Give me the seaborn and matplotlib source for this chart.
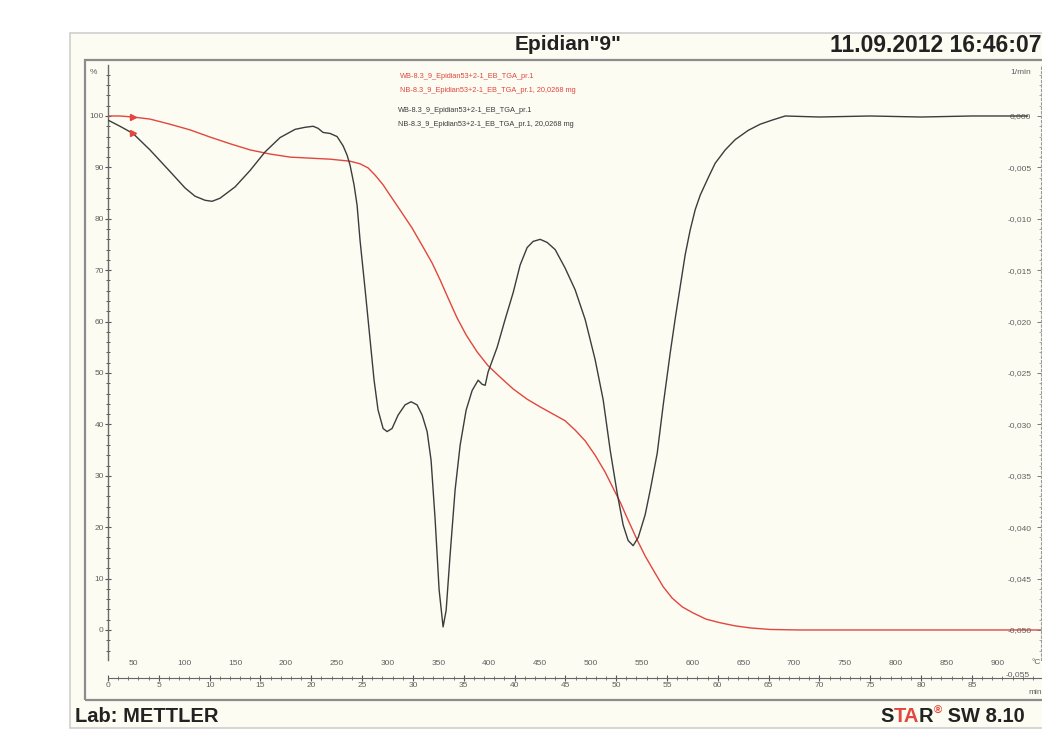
import matplotlib
matplotlib.use("Agg")
import matplotlib.pyplot as plt
import seaborn as sns
from matplotlib.patches import Rectangle
from matplotlib.ticker import FixedLocator, FixedFormatter, MultipleLocator

# ---------------- data ----------------
tga_time = [0.0, 1.18, 2.46, 4.13, 6.10, 8.07, 10.04, 12.01, 13.98, 15.94, 17.91,
            19.88, 21.85, 23.82, 24.80, 25.59, 26.28, 27.07, 27.95, 28.74, 29.92,
            31.00, 31.89, 32.68, 33.46, 34.35, 35.24, 36.32, 37.40, 38.58, 39.86,
            41.24, 42.52, 43.80, 44.98, 45.96, 46.95, 47.93, 48.92, 49.70, 50.39,
            51.08, 52.07, 52.85, 53.64, 54.63, 55.51, 56.50, 57.58, 58.86, 60.24,
            61.71, 63.19, 65.16, 68.11, 91.8]
tga_mass = [100.0, 100.0, 99.8, 99.4, 98.4, 97.3, 95.9, 94.6, 93.4, 92.6, 92.0,
            91.8, 91.6, 91.2, 90.7, 89.9, 88.5, 86.6, 84.0, 81.7, 78.2,
            74.5, 71.4, 68.1, 64.6, 60.7, 57.4, 54.1, 51.4, 49.2, 46.9,
            44.9, 43.4, 42.0, 40.7, 38.9, 36.8, 34.0, 30.7, 27.6, 24.9,
            21.8, 17.5, 14.4, 11.7, 8.4, 6.2, 4.5, 3.3, 2.1, 1.4,
            0.8, 0.4, 0.1, 0.0, 0.0]

dtg_time = [0.0, 1.18, 2.46, 4.13, 6.10, 7.58, 8.56, 9.55, 10.24, 11.02, 12.50,
            13.98, 15.45, 16.93, 18.41, 19.39, 20.18, 20.67, 21.16, 21.85, 22.54,
            23.13, 23.52, 23.82, 24.21, 24.51, 24.80, 25.30, 25.79, 26.18, 26.57,
            27.07, 27.46, 27.95, 28.54, 29.23, 29.82, 30.41, 30.91, 31.40, 31.79,
            32.19, 32.58, 32.97, 33.27, 33.66, 34.15, 34.65, 35.24, 35.83, 36.42,
            36.81, 37.11, 37.40, 38.29, 39.07, 39.86, 40.55, 41.24, 41.83, 42.52,
            43.21, 44.00, 44.98, 45.96, 46.95, 47.93, 48.72, 49.41, 50.10, 50.69,
            51.18, 51.67, 52.17, 52.85, 53.35, 54.04, 54.63, 55.31, 55.81, 56.30,
            56.79, 57.28, 57.78, 58.27, 59.06, 59.74, 60.73, 61.71, 62.99, 64.17,
            65.35, 66.63, 70.0, 75.0, 80.0, 85.0, 90.5]
dtg_rate = [-0.0004, -0.0010, -0.0017, -0.0033, -0.0054, -0.0070, -0.0078, -0.0082,
            -0.0083, -0.0080, -0.0069, -0.0053, -0.0035, -0.0021, -0.0013, -0.0011,
            -0.0010, -0.0012, -0.0016, -0.0017, -0.0020, -0.0029, -0.0038, -0.0048,
            -0.0067, -0.0087, -0.0121, -0.0169, -0.0218, -0.0257, -0.0286, -0.0304,
            -0.0307, -0.0304, -0.0291, -0.0281, -0.0278, -0.0281, -0.0291, -0.0307,
            -0.0335, -0.0393, -0.0461, -0.0497, -0.0481, -0.0427, -0.0364, -0.0320,
            -0.0286, -0.0267, -0.0257, -0.0261, -0.0262, -0.0249, -0.0225, -0.0198,
            -0.0172, -0.0145, -0.0128, -0.0122, -0.0120, -0.0123, -0.0130, -0.0148,
            -0.0169, -0.0198, -0.0237, -0.0276, -0.0325, -0.0367, -0.0398, -0.0413,
            -0.0418, -0.0410, -0.0388, -0.0364, -0.0328, -0.0281, -0.0231, -0.0197,
            -0.0166, -0.0135, -0.0111, -0.0091, -0.0077, -0.0060, -0.0046, -0.0033,
            -0.0023, -0.0014, -0.0008, -0.0004, 0.0000, -0.0001, 0.0000, -0.0001,
            0.0000, 0.0000]

pct_ticks = [0, 10, 20, 30, 40, 50, 60, 70, 80, 90, 100]
pct_labels = ["0", "10", "20", "30", "40", "50", "60", "70", "80", "90", "100"]
rate_ticks = [0.0, -0.005, -0.010, -0.015, -0.020, -0.025, -0.030, -0.035,
              -0.040, -0.045, -0.050]
rate_labels = ["0,000", "-0,005", "-0,010", "-0,015", "-0,020", "-0,025",
               "-0,030", "-0,035", "-0,040", "-0,045", "-0,050"]
temp_ticks = [50, 100, 150, 200, 250, 300, 350, 400, 450, 500, 550, 600,
              650, 700, 750, 800, 850, 900]
temp_labels = [str(v) for v in temp_ticks]
time_ticks = [0, 5, 10, 15, 20, 25, 30, 35, 40, 45, 50, 55, 60, 65, 70, 75, 80, 85]
time_labels = [str(v) for v in time_ticks]

title_text = 'Epidian"9"'
date_text = "11.09.2012 16:46:07"
lab_text = "Lab: METTLER"
legend_red = ["WB-8.3_9_Epidian53+2-1_EB_TGA_pr.1",
              "NB-8.3_9_Epidian53+2-1_EB_TGA_pr.1, 20,0268 mg"]
legend_black = ["WB-8.3_9_Epidian53+2-1_EB_TGA_pr.1",
                "NB-8.3_9_Epidian53+2-1_EB_TGA_pr.1, 20,0268 mg"]

# ---------------- style ----------------
sns.set_theme(style="white")
plt.rcParams['font.family'] = ['Liberation Sans', 'DejaVu Sans']

RED = "#e2463e"
DARK = "#3c3c3c"
TICKC = "#606060"
CREAM = "#fcfcf3"
LBL = 6

W, H = 1042, 747
fig = plt.figure(figsize=(W / 100, H / 100), dpi=100, facecolor="white")


def fx(px):
    return px / W


def fy(py):
    return 1 - py / H


# outer cream panel and inner box (drawn beneath the axes)
fig.patches.append(Rectangle((fx(70), fy(728)), fx(1060) - fx(70), fy(33) - fy(728),
                             transform=fig.transFigure, facecolor=CREAM,
                             edgecolor="#cfcfcf", lw=1.2, zorder=-2))
fig.patches.append(Rectangle((fx(85), fy(700)), fx(1060) - fx(85), fy(60) - fy(700),
                             transform=fig.transFigure, facecolor="none",
                             edgecolor="#8c8c8c", lw=1.6, zorder=-1))

# ---------------- axes ----------------
ax = fig.add_axes([fx(108), fy(660), fx(1041) - fx(108), fy(65) - fy(660)])
ax.set_facecolor("none")
ax.patch.set_alpha(0)
ax2 = ax.twinx()
ax2.set_facecolor("none")
ax2.patch.set_alpha(0)

T0, RATE = 25.0, 10.0  # start temperature and heating rate (K/min)

sns.lineplot(x=tga_time, y=tga_mass, ax=ax, color=RED, lw=1.0, sort=False,
             estimator=None)
sns.lineplot(x=dtg_time, y=dtg_rate, ax=ax2, color=DARK, lw=1.0, sort=False,
             estimator=None)
ax.plot([tga_time[2]], [tga_mass[2]], marker=">", ms=4, color=RED, ls="none")
ax2.plot([dtg_time[2]], [dtg_rate[2]], marker=">", ms=4, color=RED, ls="none")

ax.set_xlim(0, 91.8)
ax.set_ylim(-5.84, 109.92)
ax2.set_ylim(-0.05292, 0.00496)

for a in (ax, ax2):
    for s in ("top", "bottom"):
        a.spines[s].set_visible(False)
    a.set_xlabel("")
    a.set_ylabel("")
ax.spines["right"].set_visible(False)
ax.spines["left"].set_color("#6a6a6a")
ax.spines["left"].set_linewidth(1.0)
ax2.spines["left"].set_visible(False)
ax2.spines["right"].set_color("#9a9a9a")
ax2.spines["right"].set_linewidth(0.8)
ax2.spines["right"].set_linestyle((0, (2, 2)))

ax.set_xticks([])
ax.yaxis.set_major_locator(FixedLocator(pct_ticks))
ax.yaxis.set_major_formatter(FixedFormatter(pct_labels))
ax.yaxis.set_minor_locator(MultipleLocator(2))
ax.tick_params(axis="y", which="major", direction="inout", length=4, width=0.8,
               color="#555555", labelsize=LBL, labelcolor=TICKC, pad=1, left=True)
ax.tick_params(axis="y", which="minor", direction="inout", length=2.5, width=0.7,
               color="#555555", left=True)

ax2.yaxis.set_major_locator(FixedLocator(rate_ticks))
ax2.yaxis.set_major_formatter(FixedFormatter(rate_labels))
ax2.yaxis.set_minor_locator(MultipleLocator(0.001))
ax2.tick_params(axis="y", which="major", direction="in", length=3, width=0.7,
                color="#777777", labelsize=LBL, labelcolor=TICKC, pad=-7, right=True)
ax2.tick_params(axis="y", which="minor", direction="in", length=1.5, width=0.6,
                color="#999999", right=True)
for lbl in ax2.get_yticklabels():
    lbl.set_horizontalalignment("right")

# temperature labels (upper row)
secT = ax.secondary_xaxis(0, functions=(lambda t: T0 + RATE * t,
                                        lambda T: (T - T0) / RATE))
secT.xaxis.set_major_locator(FixedLocator(temp_ticks))
secT.xaxis.set_major_formatter(FixedFormatter(temp_labels))
secT.tick_params(axis="x", length=0, pad=0, labelsize=LBL, labelcolor=TICKC)
secT.spines["bottom"].set_visible(False)

# time axis (lower row)
secM = ax.secondary_xaxis(-18 / 595)
secM.xaxis.set_major_locator(FixedLocator(time_ticks))
secM.xaxis.set_major_formatter(FixedFormatter(time_labels))
secM.xaxis.set_minor_locator(MultipleLocator(1))
secM.tick_params(axis="x", which="major", direction="inout", length=4, width=0.8,
                 color="#555555", labelsize=LBL, labelcolor=TICKC, pad=1, bottom=True)
secM.tick_params(axis="x", which="minor", direction="inout", length=2.5, width=0.6,
                 color="#666666", bottom=True)
secM.spines["bottom"].set_color("#666666")
secM.spines["bottom"].set_linewidth(0.8)

# ---------------- texts ----------------
small = dict(fontsize=LBL, color=TICKC, va="center")
fig.text(fx(90), fy(72), "%", ha="left", **small)
fig.text(fx(1031), fy(72), "1/min", ha="right", **small)
fig.text(fx(1028), fy(692), "min", ha="left", **small)
fig.text(fx(1032), fy(663), "°C", ha="left", **small)
fig.text(fx(1030), fy(675), "-0,055", ha="right", **small)

fig.text(fx(400), fy(77), legend_red[0], ha="left", va="center", fontsize=5.3, color=RED)
fig.text(fx(400), fy(91), legend_red[1], ha="left", va="center", fontsize=5.3, color=RED)
fig.text(fx(398), fy(111), legend_black[0], ha="left", va="center", fontsize=5.3, color=DARK)
fig.text(fx(398), fy(125), legend_black[1], ha="left", va="center", fontsize=5.3, color=DARK)

fig.text(fx(568), fy(45), title_text, ha="center", va="center", fontsize=15,
         fontweight="bold", color="#222222")
fig.text(fx(830), fy(45), date_text, ha="left", va="center", fontsize=16.5,
         fontweight="bold", color="#222222")
fig.text(fx(75), fy(717), lab_text, ha="left", va="center", fontsize=14.5,
         fontweight="bold", color="#222222")

fig.canvas.draw()
renderer = fig.canvas.get_renderer()
xpos = fx(880)
pieces = [("S", "#222222", 14.5, 717), ("TA", RED, 14.5, 717), ("R", "#222222", 14.5, 717),
          ("®", RED, 8, 711), (" SW 8.10", "#222222", 14.5, 717)]
for s, c, size, yy in pieces:
    t = fig.text(xpos, fy(yy), s, ha="left", va="center", fontsize=size,
                 fontweight="bold", color=c)
    bb = t.get_window_extent(renderer=renderer)
    xpos += bb.width / W

fig.savefig("out.png", dpi=100, facecolor="white")
